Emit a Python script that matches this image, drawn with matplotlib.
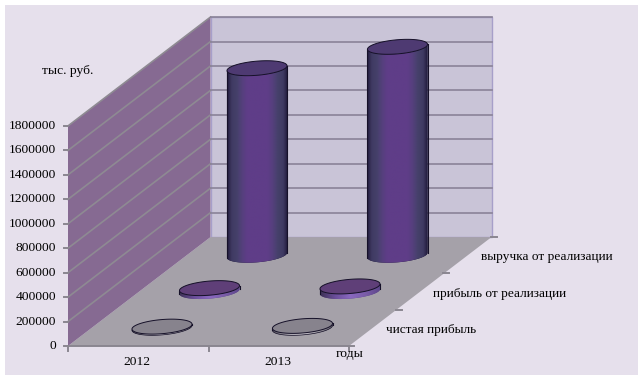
import numpy as np
import matplotlib
matplotlib.use("Agg")
import matplotlib.pyplot as plt
from matplotlib.colors import LinearSegmentedColormap
from matplotlib.patches import Polygon, Rectangle

years = ["2012", "2013"]
series_names = ["чистая прибыль", "прибыль от реализации", "выручка от реализации"]
net_profit = [10000, 16000]
sales_profit = [28000, 42000]
revenue = [1530000, 1705000]
value_ticks = [0, 200000, 400000, 600000, 800000, 1000000, 1200000, 1400000, 1600000, 1800000]

plt.rcParams['font.family'] = ['Liberation Serif', 'DejaVu Serif']

# ------------------------
# Oblique projection of the 3D box, in image pixels
# ------------------------
X0, Y0 = 68.0, 346.0   # front left corner of the floor
CAT_DX = 140.5         # one year along x
SER_DX, SER_DY = 47.5, -36.3   # one series along depth
PX_PER_VALUE = 24.45 / 200000
VMAX = value_ticks[-1]
NCAT, NSER = len(years), len(series_names)
RX, RD = 0.202, 0.206  # cylinder radius in year / series units


def proj(cat, ser, val=0.0):
    return (X0 + cat * CAT_DX + ser * SER_DX,
            Y0 + ser * SER_DY - val * PX_PER_VALUE)


def circle(cat, ser, val, t):
    # circle on the floor plane comes out as a tilted ellipse
    x, y = proj(cat + RX * np.cos(t), ser + RD * np.sin(t), val)
    return np.column_stack([x, y])


fig = plt.figure(figsize=(6.42, 3.80), dpi=100, facecolor="white")
ax = fig.add_axes([0, 0, 1, 1])
ax.set_xlim(0, 642)
ax.set_ylim(380, 0)
ax.axis("off")

ax.add_patch(Rectangle((5, 5), 633, 370, facecolor="#E6E0EC", edgecolor="none", zorder=0))

# ------------------------
# Walls and floor
# ------------------------
left_wall = [proj(0, 0), proj(0, NSER), proj(0, NSER, VMAX), proj(0, 0, VMAX)]
back_wall = [proj(0, NSER), proj(NCAT, NSER), proj(NCAT, NSER, VMAX), proj(0, NSER, VMAX)]
floor = [proj(0, 0), proj(NCAT, 0), proj(NCAT, NSER), proj(0, NSER)]

ax.add_patch(Polygon(back_wall, facecolor="#C9C4D7", edgecolor="#A79FC9", lw=1, zorder=1))
ax.add_patch(Polygon(floor, facecolor="#A5A1A9", edgecolor="none", zorder=1))
# the reference wall is a fine dither of purple and grey, its average is used here
ax.add_patch(Polygon(left_wall, facecolor="#866A92", edgecolor="none", zorder=1))

for v in value_ticks[1:]:
    a, b, c = proj(0, 0, v), proj(0, NSER, v), proj(NCAT, NSER, v)
    ax.plot([a[0], b[0]], [a[1], b[1]], color="#8E8A92", lw=1.2, zorder=2)
    ax.plot([b[0], c[0]], [b[1], c[1]], color="#8A8398", lw=1.2, zorder=2)

# ------------------------
# Axis lines and ticks
# ------------------------
axis_color = "#8A8690"
a, b = proj(0, 0), proj(NCAT, 0)
ax.plot([a[0], b[0]], [a[1], b[1]], color=axis_color, lw=1.4, zorder=2)
for v in value_ticks:
    x, y = proj(0, 0, v)
    ax.plot([x - 4, x], [y, y], color=axis_color, lw=1.4, zorder=2)
    ax.text(x - 12, y, f"{v}", ha="right", va="center", fontsize=9.7, color="black")
for i in range(NCAT + 1):
    x, y = proj(i, 0)
    ax.plot([x, x], [y, y + 5], color=axis_color, lw=1.4, zorder=2)
for i in range(NSER + 1):
    x, y = proj(NCAT, i)
    ax.plot([x - 1, x + 5], [y, y], color=axis_color, lw=1.4, zorder=2)

# ------------------------
# Cylinders
# ------------------------
tall_cmap = LinearSegmentedColormap.from_list(
    "tall", ["#1E1738", "#3F3A62", "#45406A", "#54407C", "#5F3D88", "#5F3D88", "#5F3D88",
             "#5F3D88", "#5F3D88", "#54407C", "#45406A", "#3F3A62", "#1A1434"])
mid_cmap = LinearSegmentedColormap.from_list(
    "mid", ["#3A3050", "#6A4E9A", "#8A68C0", "#7A5CA8", "#5A4488"])
low_cmap = LinearSegmentedColormap.from_list(
    "low", ["#55505C", "#A8A4AE", "#C4C0CA", "#A09CA6", "#6A6670"])

t_full = np.linspace(0, 2 * np.pi, 121)
# angle of the rightmost point of the ellipse
t_right = np.arctan2(RD * SER_DX, RX * CAT_DX)
t_lower = np.linspace(t_right - np.pi, t_right, 61)


def draw_cylinder(cat, ser, val, cmap, top_color, z, base_edge):
    top = circle(cat, ser, val, t_full)
    base_arc = circle(cat, ser, 0, t_lower)
    top_arc = circle(cat, ser, val, t_lower)
    side = np.vstack([base_arc, top_arc[::-1]])
    left, right = side[:, 0].min(), side[:, 0].max()
    edge = "#151028"
    ax.add_patch(Polygon(side, facecolor=cmap(1.0), edgecolor="none", zorder=z - 0.1))
    grad = ax.imshow(np.linspace(0, 1, 60)[None, :], cmap=cmap, aspect="auto",
                     extent=(left - 1, right + 1, side[:, 1].max() + 1, side[:, 1].min() - 1),
                     interpolation="bilinear", zorder=z)
    grad.set_clip_path(Polygon(side, transform=ax.transData))
    ax.plot([base_arc[0, 0], top_arc[0, 0]], [base_arc[0, 1], top_arc[0, 1]], color=edge, lw=0.8, zorder=z + 0.1)
    ax.plot([base_arc[-1, 0], top_arc[-1, 0]], [base_arc[-1, 1], top_arc[-1, 1]], color=edge, lw=0.8, zorder=z + 0.1)
    if base_edge:
        ax.plot(base_arc[:, 0], base_arc[:, 1], color=edge, lw=0.5, zorder=z + 0.1)
    ax.add_patch(Polygon(top, closed=True, facecolor=top_color, edgecolor=edge, lw=0.7, zorder=z + 0.2))


for i in range(NCAT):
    draw_cylinder(i + 0.5, 2.5, revenue[i], tall_cmap, "#4E3A72", 3, False)
    draw_cylinder(i + 0.5, 1.5, sales_profit[i], mid_cmap, "#5F3F78", 4, False)
    draw_cylinder(i + 0.5, 0.5, net_profit[i], low_cmap, "#87838D", 5, True)

# restore limits changed by imshow
ax.set_xlim(0, 642)
ax.set_ylim(380, 0)

# ------------------------
# Labels
# ------------------------
for i, name in enumerate(years):
    x = proj(i + 0.5, 0)[0]
    ax.text(x - 1, 362, name, ha="center", va="center", fontsize=9.7)
for i, name in enumerate(series_names):
    x, y = proj(NCAT, i + 0.5)
    ax.text(x + 13, y + 2, name, ha="left", va="center", fontsize=9.6)
ax.text(68, 71, "тыс. руб.", ha="center", va="center", fontsize=9.7)
ax.text(350, 354, "годы", ha="center", va="center", fontsize=9.7)

fig.savefig("out.png", dpi=100, facecolor="white")
